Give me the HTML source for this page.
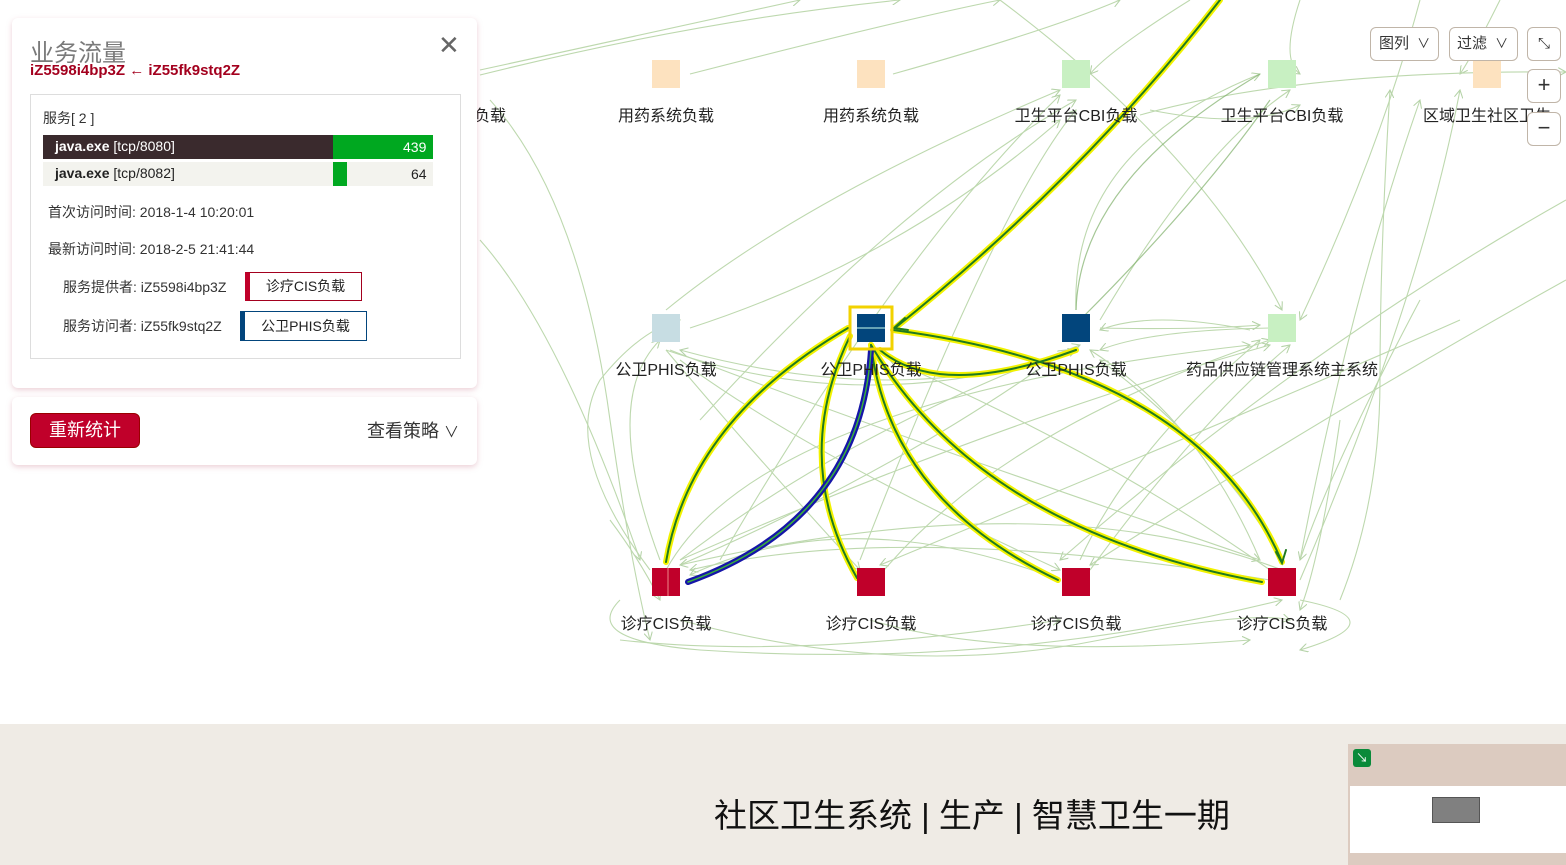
<!DOCTYPE html>
<html><head><meta charset="utf-8">
<style>
*{margin:0;padding:0;box-sizing:border-box}
body{width:1566px;height:865px;overflow:hidden;background:#fff;font-family:"Liberation Sans","Noto Sans CJK SC",sans-serif;position:relative;color:#222}
.abs{position:absolute}
.lbl{position:absolute;font-size:16px;color:#222;white-space:nowrap;transform:translateX(-50%)}
.card{position:absolute;background:#fff;border-radius:6px;box-shadow:0 2px 6px rgba(200,120,140,0.35)}
.btn{position:absolute;border:1px solid #c0b5a8;border-radius:6px;background:#fff;font-size:15px;color:#333}
</style></head><body>
<svg class="abs" style="left:0;top:0" width="1566" height="865">
<defs>
<marker id="ar" viewBox="0 0 10 10" refX="9" refY="5" markerWidth="8" markerHeight="8" orient="auto"><path d="M0,0 L9,5 L0,10" fill="none" stroke="#9cc38a" stroke-width="1.2"/></marker>
</defs>
<g fill="none" stroke="#a8cc94" stroke-width="1.1" opacity="0.75" marker-end="url(#ar)">
<path d="M480,70 Q620,40 800,0"/>
<path d="M480,75 Q700,20 900,0"/>
<path d="M690,74 Q900,20 1000,0"/>
<path d="M893,74 Q1050,30 1120,0"/>
<path d="M1420,0 Q1380,150 1300,320"/>
<path d="M1000,0 Q1200,150 1282,310"/>
<path d="M1300,0 Q1280,60 1300,74"/>
<path d="M1190,0 Q1110,50 1090,74"/>
<path d="M1500,0 Q1470,60 1460,74"/>
<path d="M1140,115 Q1300,70 1566,72"/>
<path d="M1150,110 Q1250,130 1300,105"/>
<path d="M490,100 Q580,200 610,420 Q630,560 650,640"/>
<path d="M480,240 Q560,330 640,560"/>
<path d="M666,310 Q800,200 1060,90"/>
<path d="M690,328 Q900,260 1060,120"/>
<path d="M700,420 Q900,200 1076,100"/>
<path d="M720,560 Q900,250 1060,95"/>
<path d="M860,560 Q1000,200 1076,110"/>
<path d="M1076,310 Q1070,150 1260,74"/>
<path d="M1100,320 Q1200,150 1290,90"/>
<path d="M1460,320 Q1280,400 880,565"/>
<path d="M1566,200 Q1300,350 1060,560"/>
<path d="M1566,280 Q1350,400 1090,565"/>
<path d="M1300,560 Q1350,300 1420,100"/>
<path d="M1300,580 Q1420,300 1460,90"/>
<path d="M1250,330 Q1150,310 1100,330"/>
<path d="M1270,328 Q1150,330 1100,350"/>
<path d="M1100,328 Q1200,330 1260,325"/>
<path d="M670,350 Q850,420 1260,560"/>
<path d="M680,360 Q800,450 1060,570"/>
<path d="M666,350 Q750,450 860,570"/>
<path d="M666,350 Q870,420 1076,350"/>
<path d="M1076,350 Q900,410 680,350"/>
<path d="M680,560 Q850,430 1080,345"/>
<path d="M680,560 Q1000,420 1270,345"/>
<path d="M680,565 Q900,470 1066,350"/>
<path d="M666,570 Q760,400 1250,345"/>
<path d="M1270,570 Q1100,450 890,360"/>
<path d="M1282,570 Q1050,480 680,565"/>
<path d="M1270,580 Q900,520 690,570"/>
<path d="M1060,580 Q850,500 690,575"/>
<path d="M1282,560 Q1220,450 1100,360"/>
<path d="M1260,560 Q1200,420 1090,350"/>
<path d="M1080,560 Q1130,450 1260,340"/>
<path d="M1090,570 Q1200,420 1290,345"/>
<path d="M880,575 Q1000,430 1270,340"/>
<path d="M660,560 Q600,400 660,340"/>
<path d="M650,570 Q560,450 600,380 Q640,330 680,320"/>
<path d="M620,600 Q580,640 700,650 Q1000,670 1282,600"/>
<path d="M680,620 Q900,680 1100,640 Q1250,610 1290,620"/>
<path d="M870,620 Q1000,660 1250,640"/>
<path d="M620,640 Q800,660 1060,620"/>
<path d="M1300,600 Q1400,620 1300,650"/>
<path d="M610,520 Q640,560 660,600"/>
<path d="M1340,420 Q1320,560 1300,610"/>
<path d="M1420,300 Q1330,470 1300,560"/>
<path d="M1340,600 Q1380,500 1380,380 Q1380,250 1390,90"/>
</g>
<g fill="none" stroke="#7fb06a" stroke-width="1.2" opacity="0.7">
<path d="M1076,310 Q1080,180 1260,74"/>
<path d="M1080,320 Q1200,200 1270,100"/>
</g>
<g fill="none" stroke-linecap="round">
<g stroke="#f2f200" stroke-width="6">
<path d="M1220,0 Q1080,180 895,328"/>
<path d="M666,562 Q690,420 848,328"/>
<path d="M857,578 Q790,460 850,336"/>
<path d="M871,345 Q890,500 1058,580"/>
<path d="M871,345 Q980,530 1262,582"/>
<path d="M893,330 Q1200,370 1282,562"/>
<path d="M880,350 Q940,400 1076,350"/>
</g>
<g stroke="#1f7a1f" stroke-width="2">
<path d="M1220,0 Q1080,180 895,328"/>
<path d="M666,562 Q690,420 848,328"/>
<path d="M857,578 Q790,460 850,336"/>
<path d="M871,345 Q890,500 1058,580"/>
<path d="M871,345 Q980,530 1262,582"/>
<path d="M893,330 Q1200,370 1282,562"/>
<path d="M880,350 Q940,400 1076,350"/>
</g>
<path d="M871,350 Q860,520 688,582" stroke="#1515a8" stroke-width="6"/>
<path d="M871,350 Q860,520 688,582" stroke="#3ab03a" stroke-width="1.5"/>
<g stroke="#1f7a1f" stroke-width="2">
<path d="M905,318 L894,328 L908,330"/>
<path d="M1276,552 L1282,563 L1286,550"/>
</g>
</g>
<g>
<rect x="652" y="60" width="28" height="28" fill="#fde2bf"/>
<rect x="857" y="60" width="28" height="28" fill="#fde2bf"/>
<rect x="1062" y="60" width="28" height="28" fill="#c8f0c2"/>
<rect x="1268" y="60" width="28" height="28" fill="#c8f0c2"/>
<rect x="1473" y="60" width="28" height="28" fill="#fde2bf"/>
<rect x="652" y="314" width="28" height="28" fill="#c7dde3"/>
<rect x="850" y="307" width="42" height="42" fill="none" stroke="#f2d200" stroke-width="3"/>
<rect x="857" y="314" width="28" height="28" fill="#02457c"/>
<line x1="857" y1="328" x2="885" y2="328" stroke="#cfe" stroke-width="1"/>
<rect x="1062" y="314" width="28" height="28" fill="#02457c"/>
<rect x="1268" y="314" width="28" height="28" fill="#c8f0c2"/>
<rect x="652" y="568" width="28" height="28" fill="#c0002a"/>
<line x1="668" y1="568" x2="668" y2="596" stroke="#e88" stroke-width="1"/>
<rect x="857" y="568" width="28" height="28" fill="#c0002a"/>
<rect x="1062" y="568" width="28" height="28" fill="#c0002a"/>
<rect x="1268" y="568" width="28" height="28" fill="#c0002a"/>
</g>
</svg>
<div class="lbl" style="left:490px;top:102px">负载</div>
<div class="lbl" style="left:666px;top:102px">用药系统负载</div>
<div class="lbl" style="left:871px;top:102px">用药系统负载</div>
<div class="lbl" style="left:1076px;top:102px">卫生平台CBI负载</div>
<div class="lbl" style="left:1282px;top:102px">卫生平台CBI负载</div>
<div class="lbl" style="left:1487px;top:102px">区域卫生社区卫生</div>
<div class="lbl" style="left:666px;top:356px">公卫PHIS负载</div>
<div class="lbl" style="left:871px;top:356px">公卫PHIS负载</div>
<div class="lbl" style="left:1076px;top:356px">公卫PHIS负载</div>
<div class="lbl" style="left:1282px;top:356px">药品供应链管理系统主系统</div>
<div class="lbl" style="left:666px;top:610px">诊疗CIS负载</div>
<div class="lbl" style="left:871px;top:610px">诊疗CIS负载</div>
<div class="lbl" style="left:1076px;top:610px">诊疗CIS负载</div>
<div class="lbl" style="left:1282px;top:610px">诊疗CIS负载</div>

<div class="btn" style="left:1370px;top:27px;width:69px;height:34px;line-height:32px;padding-left:8px">图列 <span style="font-size:13px;margin-left:4px">∨</span></div>
<div class="btn" style="left:1449px;top:27px;width:69px;height:34px;line-height:32px;padding-left:7px">过滤 <span style="font-size:13px;margin-left:4px">∨</span></div>
<div class="btn" style="left:1527px;top:27px;width:34px;height:34px;text-align:center;line-height:32px;font-size:15px">⤡</div>
<div class="btn" style="left:1527px;top:69px;width:34px;height:34px;text-align:center;line-height:30px;font-size:22px">+</div>
<div class="btn" style="left:1527px;top:112px;width:34px;height:34px;text-align:center;line-height:30px;font-size:22px">−</div>

<div class="card" style="left:12px;top:18px;width:465px;height:370px">
 <div class="abs" style="left:18px;top:15px;font-size:24px;color:#7a7a7a">业务流量</div>
 <div class="abs" style="left:18px;top:44px;font-size:15px;font-weight:bold;color:#a3001e">iZ5598i4bp3Z ← iZ55fk9stq2Z</div>
 <div class="abs" style="left:426px;top:14px;font-size:26px;color:#666;line-height:26px">✕</div>
 <div class="abs" style="left:18px;top:76px;width:431px;height:265px;border:1px solid #ddd">
  <div class="abs" style="left:12px;top:13px;font-size:14px;color:#333">服务[ 2 ]</div>
  <div class="abs" style="left:12px;top:40px;width:390px;height:24px;background:#3a2a2d"></div>
  <div class="abs" style="left:302px;top:40px;width:100px;height:24px;background:#00a820"></div>
  <div class="abs" style="left:24px;top:43px;font-size:14px;color:#fff"><b>java.exe</b> [tcp/8080]</div>
  <div class="abs" style="left:372px;top:44px;font-size:14px;color:#fff">439</div>
  <div class="abs" style="left:12px;top:67px;width:390px;height:24px;background:#f3f3ee"></div>
  <div class="abs" style="left:302px;top:67px;width:14px;height:24px;background:#00a820"></div>
  <div class="abs" style="left:24px;top:70px;font-size:14px;color:#222"><b>java.exe</b> [tcp/8082]</div>
  <div class="abs" style="left:380px;top:71px;font-size:14px;color:#222">64</div>
  <div class="abs" style="left:17px;top:107px;font-size:14px;color:#333">首次访问时间: 2018-1-4 10:20:01</div>
  <div class="abs" style="left:17px;top:144px;font-size:14px;color:#333">最新访问时间: 2018-2-5 21:41:44</div>
  <div class="abs" style="left:32px;top:182px;font-size:14px;color:#333">服务提供者: iZ5598i4bp3Z</div>
  <div class="abs" style="left:214px;top:177px;width:117px;height:29px;border:1px solid #a3001e;border-left:5px solid #c0002a;font-size:14px;text-align:center;line-height:27px">诊疗CIS负载</div>
  <div class="abs" style="left:32px;top:221px;font-size:14px;color:#333">服务访问者: iZ55fk9stq2Z</div>
  <div class="abs" style="left:209px;top:216px;width:127px;height:30px;border:1px solid #02457c;border-left:5px solid #02457c;font-size:14px;text-align:center;line-height:28px">公卫PHIS负载</div>
 </div>
</div>
<div class="card" style="left:12px;top:397px;width:465px;height:68px">
 <div class="abs" style="left:18px;top:16px;width:110px;height:35px;background:#c0002a;border-radius:6px;border:1px solid #900;color:#fff;font-size:18px;text-align:center;line-height:33px">重新统计</div>
 <div class="abs" style="left:355px;top:20px;font-size:18px;color:#333">查看策略 <span style="font-size:15px">∨</span></div>
</div>

<div class="abs" style="left:0;top:724px;width:1566px;height:141px;background:#efebe5"></div>
<div class="abs" style="left:714px;top:789px;font-size:33px;color:#111;white-space:nowrap">社区卫生系统 | 生产 | 智慧卫生一期</div>
<div class="abs" style="left:1348px;top:744px;width:218px;height:121px;background:#dccbc0"></div>
<div class="abs" style="left:1350px;top:786px;width:216px;height:67px;background:#fff"></div>
<div class="abs" style="left:1432px;top:797px;width:48px;height:26px;background:#808080;border:1px solid #555"></div>
<div class="abs" style="left:1353px;top:749px;width:18px;height:18px;background:#0a8a3a;border-radius:3px;color:#fff;font-size:12px;text-align:center;line-height:18px">↘</div>
</body></html>
